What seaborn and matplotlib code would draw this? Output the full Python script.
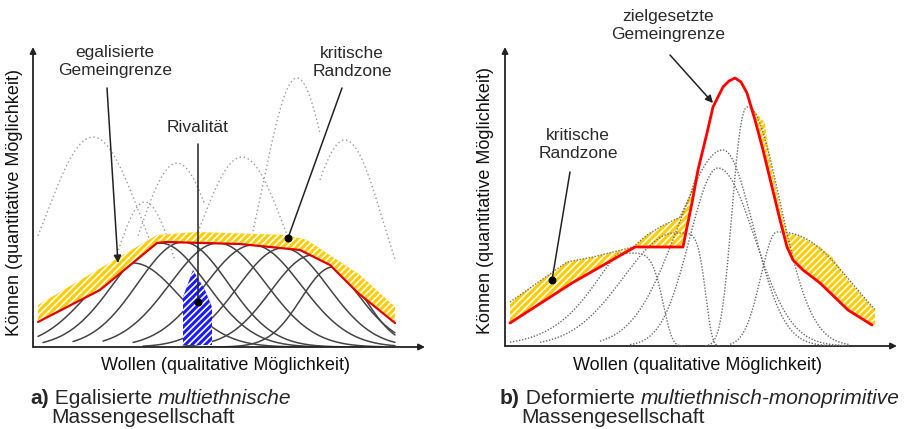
import numpy as np
import matplotlib.pyplot as plt
import seaborn as sns

sns.set_theme(style="white")
plt.rcParams['font.family'] = ['Liberation Sans', 'DejaVu Sans']
plt.rcParams['hatch.linewidth'] = 1.2

W, H = 913, 429

# ---- panel a (units: offsets from the axis origin) ----
a_grenze_x = [5, 67, 124, 134, 207, 267, 297, 325, 362]
a_grenze_y = [25, 57, 104, 105, 103, 97, 82, 54, 24]
a_rand_x = [5, 124, 164, 254, 274, 327, 362]
a_rand_y = [42, 112, 115, 112, 107, 72, 40]

# solid bell curves (center, height, width, drawn range)
a_solid_c = [100, 127, 150, 185, 220, 250, 280, 300]
a_solid_h = [84, 104, 105, 104, 102, 99, 92, 80]
a_solid_s = [66, 66, 64, 68, 68, 64, 60, 45]
a_solid_lo = [5, 10, 40, 70, 100, 110, 150, 170]
a_solid_hi = [280, 300, 330, 350, 362, 362, 362, 362]

# dotted arcs above the band
a_arc_c = [60, 112, 144, 209, 264, 312]
a_arc_h = [210, 145, 184, 190, 269, 207]
a_arc_s = [69, 42, 55, 62, 48, 54]
a_arc_lo = [5, 80, 105, 165, 219, 287]
a_arc_hi = [117, 142, 172, 254, 287, 362]

a_riv_x = [150, 150, 160, 172, 179, 179]
a_riv_y = [2, 50, 77, 57, 40, 2]

# ---- panel b ----
b_grenze_x = [5, 67, 130, 178, 182, 187, 193, 202, 208, 218, 224, 230, 236, 242,
              250, 258, 267, 275, 282, 288, 298, 315, 343, 367]
b_grenze_y = [23, 63, 99, 99, 119, 143, 176, 213, 239, 259, 265, 268, 264, 253,
              226, 196, 159, 126, 99, 86, 76, 63, 36, 21]
b_rand_l_x = [5, 62, 88, 128, 142, 155, 175, 185, 193]
b_rand_l_y = [44, 84, 89, 99, 111, 119, 129, 150, 176]
b_rand_r_x = [247, 260, 263, 268, 275, 282, 292, 315, 327, 343, 370, 370]
b_rand_r_y = [238, 223, 199, 173, 139, 113, 111, 99, 89, 66, 36, 21]

# dotted curves: center, height, left/right width, left/right shape, range
b_dot_c = [243, 218, 213, 170, 115, 272]
b_dot_h = [239, 196, 178, 113, 93, 114]
b_dot_sl = [20, 64, 40, 73, 48, 23]
b_dot_sr = [45, 43, 52, 32, 45, 93]
b_dot_pl = [2.5, 2, 2, 2, 1.4, 2]
b_dot_pr = [2, 2, 2, 6, 6, 2.4]
b_dot_lo = [200, 95, 125, 35, 5, 225]
b_dot_hi = [345, 340, 345, 214, 182, 370]


def bump(x, c, h, sl, sr, pl=2, pr=2):
    d = np.asarray(x, dtype=float) - c
    s = np.where(d < 0, sl, sr)
    p = np.where(d < 0, pl, pr)
    return h * np.exp(-(np.abs(d) / s) ** p)


def px(x, y):
    return x / W, 1 - y / H


def axis_arrows(ax, xmax, ymax):
    kw = dict(arrowstyle='-|>', lw=1.3, color='#222222', mutation_scale=9,
              shrinkA=0, shrinkB=0)
    ax.annotate('', xy=(xmax, 0), xytext=(0, 0), arrowprops=kw, annotation_clip=False)
    ax.annotate('', xy=(0, ymax), xytext=(0, 0), arrowprops=kw, annotation_clip=False)


def band(ax, top_x, top_y, bot_x, bot_y, color):
    xs = list(top_x) + list(bot_x)[::-1]
    ys = list(top_y) + list(bot_y)[::-1]
    ax.fill(xs, ys, facecolor=color, edgecolor='white', hatch='/////', lw=0, zorder=3)


def pointer(ax, text, tx, ty, x0, y0, x1, y1, arrow):
    ax.text(tx, ty, text, ha='center', va='center', fontsize=12.5, color='#2a2a2a',
            linespacing=1.25)
    if arrow:
        ax.annotate('', xy=(x1, y1), xytext=(x0, y0), annotation_clip=False,
                    arrowprops=dict(arrowstyle='-|>', lw=1.1, color='#222222',
                                    mutation_scale=11, shrinkA=0, shrinkB=0), zorder=6)
    else:
        ax.plot([x0, x1], [y0, y1], color='#222222', lw=1.1, zorder=6, clip_on=False)
        ax.scatter([x1], [y1], s=22, color='black', zorder=7)


def caption(fig, x, y1, y2, tag, plain, ital):
    fig.canvas.draw()
    r = fig.canvas.get_renderer()
    t = fig.text(*px(x, y1), tag, fontsize=15, fontweight='bold', va='baseline')
    x1 = t.get_window_extent(r).x1
    t = fig.text(x1 / W, 1 - y1 / H, ' ' + plain + ' ', fontsize=15, va='baseline')
    x2 = t.get_window_extent(r).x1
    fig.text(x2 / W, 1 - y1 / H, ital, fontsize=15, style='italic', va='baseline')
    fig.text(*px(x + 21, y2), 'Massengesellschaft', fontsize=15, va='baseline')


fig = plt.figure(figsize=(W / 100, H / 100), dpi=100)

# ================= panel a =================
ax = fig.add_axes([33 / W, 1 - 347 / H, 392 / W, 300 / H])
ax.set_xlim(0, 392)
ax.set_ylim(0, 300)
ax.axis('off')

for c, h, s, lo, hi in zip(a_solid_c, a_solid_h, a_solid_s, a_solid_lo, a_solid_hi):
    x = np.linspace(lo, hi, 200)
    sns.lineplot(x=x, y=bump(x, c, h, s, s), ax=ax, color='#444444', lw=1.1,
                 estimator=None, sort=False, zorder=2)

for c, h, s, lo, hi in zip(a_arc_c, a_arc_h, a_arc_s, a_arc_lo, a_arc_hi):
    x = np.linspace(lo, hi, 150)
    sns.lineplot(x=x, y=bump(x, c, h, s, s), ax=ax, color='#9a9a9a', lw=1.0,
                 linestyle=(0, (1, 2)), estimator=None, sort=False, zorder=2)

ax.fill(a_riv_x, a_riv_y, facecolor='#1a1aff', edgecolor='white', hatch='/////',
        lw=0, zorder=4)
band(ax, a_rand_x, a_rand_y, a_grenze_x, a_grenze_y, '#ffcc00')
sns.lineplot(x=a_grenze_x, y=a_grenze_y, ax=ax, color='#e00000', lw=1.6,
             estimator=None, sort=False, zorder=5)
axis_arrows(ax, 392, 300)

pointer(ax, 'egalisierte\nGemeingrenze', 82, 285, 74, 259, 85, 84, True)
pointer(ax, 'kritische\nRandzone', 319, 285, 309, 259, 255, 109, False)
pointer(ax, 'Rivalität', 165, 220, 165, 203, 165, 45, False)

# ================= panel b =================
bx = fig.add_axes([505 / W, 1 - 346 / H, 392 / W, 299 / H])
bx.set_xlim(0, 392)
bx.set_ylim(0, 299)
bx.axis('off')

gx = np.array(b_grenze_x)
gy = np.array(b_grenze_y)
band(bx, b_rand_l_x, b_rand_l_y, gx[gx <= 193], gy[gx <= 193], '#ffcc00')
band(bx, b_rand_r_x, b_rand_r_y, gx[gx >= 247], gy[gx >= 247], '#ffcc00')
sns.lineplot(x=b_rand_l_x, y=b_rand_l_y, ax=bx, color='#777777', lw=1.0,
             linestyle=(0, (1, 1.2)), estimator=None, sort=False, zorder=4)

for c, h, sl, sr, pl, pr, lo, hi in zip(b_dot_c, b_dot_h, b_dot_sl, b_dot_sr,
                                         b_dot_pl, b_dot_pr, b_dot_lo, b_dot_hi):
    x = np.linspace(lo, hi, 300)
    sns.lineplot(x=x, y=bump(x, c, h, sl, sr, pl, pr), ax=bx, color='#6a6a6a', lw=1.0,
                 linestyle=(0, (1, 1.2)), estimator=None, sort=False, zorder=4)

sns.lineplot(x=b_grenze_x, y=b_grenze_y, ax=bx, color='#ff0000', lw=2.0,
             estimator=None, sort=False, zorder=5)
axis_arrows(bx, 392, 299)

pointer(bx, 'zielgesetzte\nGemeingrenze', 163, 320, 165, 291, 208, 243, True)
pointer(bx, 'kritische\nRandzone', 73, 202, 65, 174, 47, 66, False)

# ---- labels and captions ----
lab = dict(fontsize=13, ha='center', va='center', color='#111111')
fig.text(*px(225, 365), 'Wollen (qualitative Möglichkeit)', **lab)
fig.text(*px(15, 202), 'Können (quantitative Möglichkeit)', rotation=90, **lab)
fig.text(*px(697, 365), 'Wollen (qualitative Möglichkeit)', **lab)
fig.text(*px(485, 200), 'Können (quantitative Möglichkeit)', rotation=90, **lab)

caption(fig, 30, 404, 423, 'a)', 'Egalisierte', 'multiethnische')
caption(fig, 500, 404, 423, 'b)', 'Deformierte', 'multiethnisch-monoprimitive')

fig.savefig('out.png', dpi=100, facecolor='white')
